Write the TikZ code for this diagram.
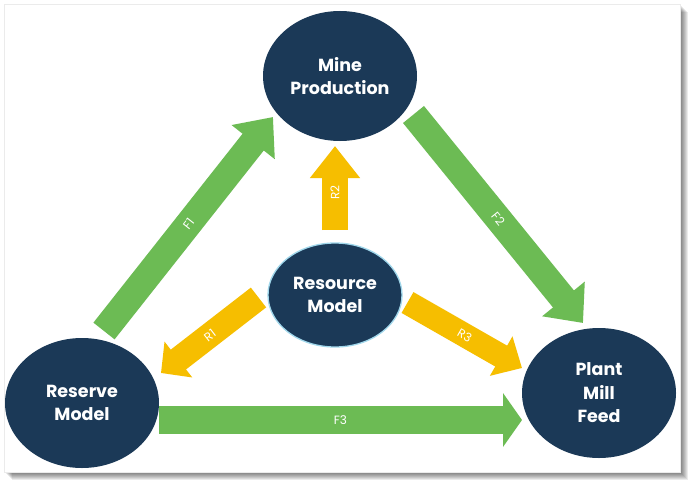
\documentclass[tikz,border=0pt]{standalone}
\usepackage{fontspec}
\setmainfont{Poppins}
\usetikzlibrary{arrows.meta,shapes.geometric}
\definecolor{navy}{RGB}{27,57,87}
\definecolor{fgreen}{RGB}{108,187,84}
\definecolor{ryellow}{RGB}{246,190,0}
\definecolor{glow}{RGB}{160,215,235}
\tikzset{
  bubble/.style={ellipse, fill=navy, inner sep=0pt, minimum width=154pt, minimum height=130pt,
    text=white, align=center, font=\bfseries\fontsize{17.5}{23.5}\selectfont},
  flowarrow/.style={draw=fgreen, line width=27pt},
  resarrow/.style={draw=ryellow, line width=25pt},
  lab/.style={text=white, sloped, font=\fontsize{12}{14}\selectfont, inner sep=0pt}
}
\begin{document}
\begin{tikzpicture}[x=1pt,y=-1pt]
\useasboundingbox (0,0) rectangle (693,487);
\fill[white] (0,0) rectangle (693,487);
% shadow
\foreach \i in {1,...,8}{
  \fill[black, opacity=0.08] (4+\i,4+\i) rectangle (680+\i,472+\i);
}
\fill[white] (4,4) rectangle (680,472);
\draw[black!8, line width=0.6pt] (4,4) rectangle (680,472);

% nodes
\node[bubble] (mine) at (340,76) {Mine\\Production};
\node[bubble, minimum width=134pt, minimum height=104pt, draw=glow, line width=1.3pt] (res) at (335,295) {Resource\\Model};
\node[bubble] (reserve) at (82,403) {Reserve\\Model};
\node[bubble] (plant) at (599,393) {Plant\\Mill\\Feed};

% arrow end points
\coordinate (f1a) at (104,331); \coordinate (f1b) at (273,117);
\coordinate (f2a) at (413.5,114.5); \coordinate (f2b) at (583,323);
\coordinate (f3a) at (159,420); \coordinate (f3b) at (522,420);
\coordinate (r2a) at (335,230); \coordinate (r2b) at (335,146);
\coordinate (r1a) at (258.5,297.5); \coordinate (r1b) at (161,373);
\coordinate (r3a) at (407.5,302.5); \coordinate (r3b) at (522,368);

\draw[flowarrow, -{Triangle[width=53pt,length=32pt]}] (f1a) -- node[lab]{F1} (f1b);
\draw[flowarrow, -{Triangle[width=53pt,length=31pt]}] (f2a) -- node[lab]{F2} (f2b);
\draw[flowarrow, line width=28pt, -{Triangle[width=53pt,length=19pt]}] (f3a) -- node[lab]{F3} (f3b);
\draw[resarrow, line width=26pt, -{Triangle[width=48pt,length=32pt]}] (r2a) -- node[lab, pos=0.45]{R2} (r2b);
\draw[resarrow, -{Triangle[width=44pt,length=22pt]}] (r1a) -- node[lab]{R1} (r1b);
\draw[resarrow, line width=24pt, -{Triangle[width=44pt,length=24pt]}] (r3a) -- node[lab]{R3} (r3b);
\end{tikzpicture}
\end{document}
